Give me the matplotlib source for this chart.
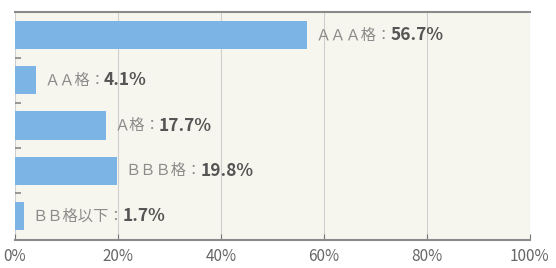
import matplotlib
matplotlib.use("Agg")
import matplotlib.pyplot as plt

plt.rcParams['font.family'] = ['Noto Sans CJK JP', 'DejaVu Sans']

categories = ["ＡＡＡ格", "ＡＡ格", "Ａ格", "ＢＢＢ格", "ＢＢ格以下"]
values = [56.7, 4.1, 17.7, 19.8, 1.7]
xticks = [0, 20, 40, 60, 80, 100]
xticklabels = ["0%", "20%", "40%", "60%", "80%", "100%"]

fig = plt.figure(figsize=(5.56, 2.68), dpi=100)
fig.patch.set_facecolor("white")
ax = fig.add_axes([0.027, 0.105, 0.926, 0.85])
ax.set_facecolor("#f7f6ee")

ypos = list(range(len(categories)))
ax.barh(ypos, values, height=0.62, color="#7db4e6", zorder=3)

ax.set_xlim(0, 100)
ax.set_ylim(4.53, -0.51)
ax.set_xticks(xticks)
ax.set_xticklabels(xticklabels, color="#666666", fontsize=11)
ax.tick_params(axis='x', direction='in', length=4, color="#777777", pad=6)
ax.set_yticks([])
ax.set_yticks([0.5, 1.5, 2.5, 3.5], minor=True)
ax.tick_params(axis='y', which='minor', direction='in', length=4, width=1.2, color="#888888")
ax.grid(axis='x', color="#cfcfcf", linewidth=0.8, zorder=0)

for s in ['left', 'right']:
    ax.spines[s].set_visible(False)
for s in ['top', 'bottom']:
    ax.spines[s].set_color("#8a8a8a")
    ax.spines[s].set_linewidth(1.5)

for y, (name, v) in enumerate(zip(categories, values)):
    t = ax.annotate(name + "：", xy=(v, y), xytext=(6, 0), textcoords='offset points',
                    ha='left', va='center', fontsize=11, color="#8c8c8c", zorder=4)
    ax.annotate(f"{v:.1f}%", xy=(1, 0.5), xycoords=t, xytext=(-1, 0),
                textcoords='offset points', ha='left', va='center',
                fontsize=12.5, fontweight='bold', color="#555555", zorder=4)

fig.savefig("out.png", dpi=100, facecolor=fig.get_facecolor())
